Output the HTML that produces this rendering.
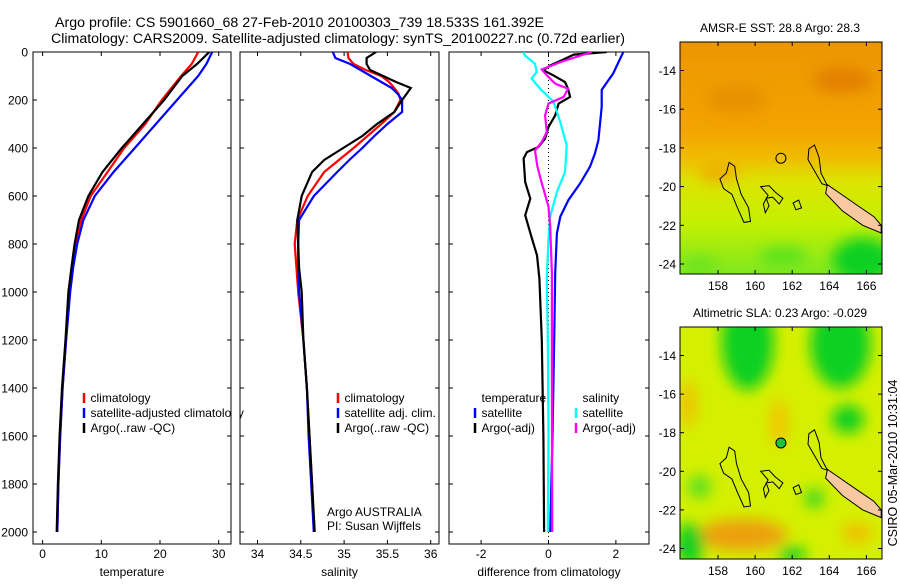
<!DOCTYPE html>
<html><head><meta charset="utf-8"><style>
body{margin:0;background:#fff;}
svg text{font-family:"Liberation Sans",sans-serif;fill:#000;}
</style></head><body>
<svg id="fig" width="900" height="580" viewBox="0 0 900 580" xmlns="http://www.w3.org/2000/svg">
<defs>
<clipPath id="c1"><rect x="33" y="52" width="198" height="492"/></clipPath>
<clipPath id="c2"><rect x="240" y="52" width="199" height="492"/></clipPath>
<clipPath id="c3"><rect x="449" y="52" width="200" height="492"/></clipPath>
<clipPath id="m1"><rect x="680" y="42" width="202" height="232"/></clipPath>
<clipPath id="m2"><rect x="680" y="327" width="202" height="232"/></clipPath>
<filter id="bl" x="-50%" y="-50%" width="200%" height="200%"><feGaussianBlur stdDeviation="7"/></filter>
<linearGradient id="sstg" x1="0" y1="0" x2="0" y2="1">
<stop offset="0" stop-color="#ec9600"/><stop offset="0.38" stop-color="#f2a400"/>
<stop offset="0.5" stop-color="#f0bc00"/><stop offset="0.6" stop-color="#dce400"/>
<stop offset="0.78" stop-color="#c4f000"/><stop offset="1" stop-color="#80e820"/>
</linearGradient>
</defs>
<text x="55" y="27" font-size="13.5" textLength="489" lengthAdjust="spacingAndGlyphs">Argo profile: CS 5901660_68 27-Feb-2010 20100303_739 18.533S 161.392E</text>
<text x="51" y="43" font-size="13.5" textLength="574" lengthAdjust="spacingAndGlyphs">Climatology: CARS2009. Satellite-adjusted climatology: synTS_20100227.nc (0.72d earlier)</text>
<g id="g1"></g>
<g id="g2"></g>
<g id="g3"></g>
<g id="maps"></g>
<text font-size="12.5" transform="translate(897,463) rotate(-90)" text-anchor="middle">CSIRO 05-Mar-2010 10:31:04</text>
</svg>
<script>
// ---- data ----
const tDepth = [0,50,100,200,300,400,500,600,700,800,900,1000,1200,1400,1600,1800,2000];
const tArgo  = [28.4,26.3,23.8,20.7,17.1,13.5,10.2,7.8,6.2,5.45,4.9,4.4,3.9,3.3,2.9,2.6,2.4];
const tClim  = [26.5,25.4,23.6,20.3,17.5,13.9,11.05,8.2,6.6,5.7,5.1,4.6,4.0,3.4,3.0,2.7,2.5];
const tSat   = [28.9,27.9,26.5,22.9,19.3,15.7,12.1,8.9,6.95,5.9,5.2,4.7,4.0,3.4,3.0,2.7,2.5];

const sDepth = [0,25,50,75,100,125,150,175,200,250,300,350,400,450,500,600,700,800,900,1000,1200,1400,1600,1800,2000];
const sArgo  = [35.37,35.26,35.26,35.30,35.45,35.60,35.77,35.72,35.67,35.58,35.38,35.21,34.99,34.77,34.63,34.51,34.46,34.47,34.48,34.51,34.53,34.57,34.60,34.63,34.66];
const sClim  = [35.04,35.05,35.11,35.25,35.43,35.52,35.58,35.63,35.65,35.58,35.43,35.27,35.11,34.94,34.77,34.58,34.46,34.43,34.45,34.47,34.53,34.57,34.60,34.63,34.65];
const sSat   = [34.87,34.90,35.07,35.19,35.31,35.43,35.55,35.62,35.67,35.67,35.50,35.35,35.21,35.06,34.92,34.65,34.48,34.47,34.47,34.48,34.53,34.57,34.59,34.62,34.65];

const dDepthB = [0,89,158,228,367,422,478,547,617,686,756,922,1200,1600,2000];
const dTSat   = [2.22,1.92,1.58,1.58,1.48,1.38,1.23,0.94,0.59,0.35,0.25,0.2,0.17,0.12,0.05];
const dDepthK = [0,11,28,56,76,97,125,153,187,215,264,312,361,396,417,444,542,611,680,778,847,944,1200,1600,2000];
const dTArgo  = [1.73,0.75,0.49,0.05,-0.15,0.14,0.49,0.58,0.64,0.3,0.2,0,-0.1,-0.3,-0.64,-0.74,-0.69,-0.54,-0.69,-0.49,-0.34,-0.27,-0.2,-0.15,-0.13];
const dDepthM = [0,42,73,97,132,153,187,215,264,333,375,410,478,547,644,728,922,1400,2000];
const dSArgo  = [1.28,0.35,-0.2,-0.05,0.2,0.58,0.45,0,-0.1,-0.05,-0.2,-0.4,-0.33,-0.2,0,0.05,0.1,0.1,0.11];
const dDepthC = [0,14,49,83,111,153,208,292,389,500,583,686,778,944,1200,1600,2000];
const dSSat   = [-0.75,-0.7,-0.4,-0.35,-0.5,-0.25,0.15,0.35,0.54,0.49,0.25,0.05,0,-0.05,-0.02,0,-0.02];

const depthTicks = [0,200,400,600,800,1000,1200,1400,1600,1800,2000];
const tTicks = [0,10,20,30];
const sTicks = [34,34.5,35,35.5,36];
const sTickLabels = ["34","34.5","35","35.5","36"];
const dTicks = [-2,0,2];
const latTicks = [14,16,18,20,22,24];
const lonTicks = [158,160,162,164,166];

// ---- scales ----
const NS='http://www.w3.org/2000/svg';
const yD = d => 52 + d*0.24;
const xT = v => 42.6 + v*5.87;
const xS = v => 257.5 + (v-34)*86.6;
const xDf = v => 548.5 + v*33.7;
function mk(tag, attrs, parent){const e=document.createElementNS(NS,tag);for(const k in attrs)e.setAttribute(k,attrs[k]);parent.appendChild(e);return e;}
function txt(s, x, y, anchor, parent, size){const t=mk('text',{x:x,y:y,'font-size':size||12,'text-anchor':anchor||'start'},parent);t.textContent=s;return t;}

function panel(g, x0, x1, xs, ticks, labels, xlabel, showY){
  const box=mk('rect',{x:x0,y:52,width:x1-x0,height:492,fill:'none',stroke:'#000','stroke-width':1},g);
  
  
  depthTicks.forEach((d,i)=>{
    mk('line',{x1:x0,x2:x0+4,y1:yD(d),y2:yD(d),stroke:'#000'},g);
    mk('line',{x1:x1-4,x2:x1,y1:yD(d),y2:yD(d),stroke:'#000'},g);
    if(showY){const t=txt(String(d),28,yD(d)+4.5,'end',g);
      
      }
  });
  ticks.forEach((v,i)=>{
    mk('line',{x1:xs(v),x2:xs(v),y1:544,y2:540,stroke:'#000'},g);
    mk('line',{x1:xs(v),x2:xs(v),y1:52,y2:56,stroke:'#000'},g);
    const t=txt(labels[i],xs(v),558,'middle',g);
    
    
  });
  const xl=txt(xlabel,(x0+x1)/2,576,'middle',g);
  
  
}
function series(g, clip, depths, vals, xs, color, name){
  const pts=depths.map((d,i)=>xs(vals[i]).toFixed(1)+','+yD(d).toFixed(1)).join(' ');
  const p=mk('polyline',{points:pts,fill:'none',stroke:color,'stroke-width':2.2,'clip-path':'url(#'+clip+')'},g);
  
  
}
function legend(g, x, y, color, label){
  if(color){const m=mk('line',{x1:x,x2:x,y1:y-9,y2:y+1,stroke:color,'stroke-width':2.5},g);
    
    }
  const t=txt(label,x+6.5,y,'start',g);
  
  
}

// panel 1
const g1=document.getElementById('g1');
panel(g1,33,231,xT,tTicks,tTicks.map(String),'temperature',true);
series(g1,'c1',tDepth,tClim,xT,'#f00','temperature-climatology-line');
series(g1,'c1',tDepth,tSat,xT,'#00f','temperature-satellite-line');
series(g1,'c1',tDepth,tArgo,xT,'#000','temperature-argo-line');
legend(g1,84,402,'#f00','climatology');
legend(g1,84,417,'#00f','satellite-adjusted climatology');
legend(g1,84,432,'#000','Argo(..raw -QC)');
mk('rect',{x:231.5,y:405,width:8,height:16,fill:'#fff'},g1);
mk('line',{x1:231,x2:231,y1:400,y2:425,stroke:'#000'},g1);

// panel 2
const g2=document.getElementById('g2');
panel(g2,240,439,xS,sTicks,sTickLabels,'salinity',false);
series(g2,'c2',sDepth,sClim,xS,'#f00','salinity-climatology-line');
series(g2,'c2',sDepth,sSat,xS,'#00f','salinity-satellite-line');
series(g2,'c2',sDepth,sArgo,xS,'#000','salinity-argo-line');
legend(g2,338,402,'#f00','climatology');
legend(g2,338,417,'#00f','satellite adj. clim.');
legend(g2,338,432,'#000','Argo(..raw -QC)');
let t=txt('Argo AUSTRALIA',327,516,'start',g2);


t=txt('PI: Susan Wijffels',327,530,'start',g2);



// panel 3
const g3=document.getElementById('g3');
panel(g3,449,649,xDf,dTicks,dTicks.map(String),'difference from climatology',false);
const zl=mk('line',{x1:xDf(0),x2:xDf(0),y1:52,y2:544,stroke:'#000','stroke-width':1,'stroke-dasharray':'1,3'},g3);


series(g3,'c3',dDepthB,dTSat,xDf,'#00f','temperature-satellite-diff-line');
series(g3,'c3',dDepthK,dTArgo,xDf,'#000','temperature-argo-diff-line');
series(g3,'c3',dDepthC,dSSat,xDf,'#0ff','salinity-satellite-diff-line');
series(g3,'c3',dDepthM,dSArgo,xDf,'#f0f','salinity-argo-diff-line');
legend(g3,475,402,null,'temperature');
legend(g3,475,417,'#00f','satellite');
legend(g3,475,432,'#000','Argo(-adj)');
legend(g3,576,402,null,'salinity');
legend(g3,576,417,'#0ff','satellite');
legend(g3,576,432,'#f0f','Argo(-adj)');

// ---- maps ----
const mg=document.getElementById('maps');
const lonX = l => 718 + (l-158)*18.55;
const islandA=[[158.6,18.75],[158.9,18.95],[159.0,19.6],[159.25,20.4],[159.65,21.1],[159.75,21.8],[159.4,21.85],[159.05,21.1],[158.75,20.4],[158.3,20.1],[158.1,19.6],[158.45,19.3]];
const islandB=[[160.3,20.0],[160.75,19.95],[161.1,20.3],[161.5,20.6],[161.3,20.9],[160.95,20.55],[160.6,20.6],[160.75,21.0],[160.55,21.35],[160.45,20.9],[160.7,20.45]];
const islandC=[[162.05,20.85],[162.35,20.7],[162.5,21.1],[162.2,21.2]];
const islandD=[[162.9,18.05],[163.2,17.85],[163.45,18.5],[163.55,19.3],[163.9,19.95],[163.6,19.85],[163.15,19.1],[162.85,18.6]];
const caledonia=[[163.9,19.9],[164.5,20.3],[165.4,20.9],[166.4,21.55],[166.8,22.0],[166.8,22.4],[165.8,22.0],[164.7,21.25],[163.8,20.35]];
function drawMap(y0, y1, latY, title, clip, sst){
  const g=mk('g',{},mg);
  
  
  const cg=mk('g',{'clip-path':'url(#'+clip+')'},g);
  if(sst){
    mk('rect',{x:680,y:y0,width:202,height:y1-y0,fill:'url(#sstg)'},cg);
    const bg=mk('g',{filter:'url(#bl)'},cg);
    mk('ellipse',{cx:lonX(159),cy:latY(15.5),rx:30,ry:14,fill:'#e48a00',opacity:0.7},bg);
    mk('ellipse',{cx:lonX(164.7),cy:latY(14.5),rx:30,ry:12,fill:'#e07800',opacity:0.8},bg);
    mk('ellipse',{cx:lonX(158),cy:latY(19.3),rx:20,ry:10,fill:'#f0a800',opacity:0.8},bg);
    mk('ellipse',{cx:lonX(165.8),cy:latY(23.8),rx:30,ry:22,fill:'#10d020'},bg);
    mk('ellipse',{cx:lonX(161.5),cy:latY(23.6),rx:25,ry:10,fill:'#50e020',opacity:0.8},bg);
    mk('ellipse',{cx:lonX(157),cy:latY(24),rx:18,ry:8,fill:'#60e020',opacity:0.8},bg);
  } else {
    mk('rect',{x:680,y:y0,width:202,height:y1-y0,fill:'#d4f000'},cg);
    const bg=mk('g',{filter:'url(#bl)'},cg);
    mk('ellipse',{cx:lonX(159.6),cy:latY(13.3),rx:26,ry:48,fill:'#10d020'},bg);
    mk('ellipse',{cx:lonX(164.6),cy:latY(13.4),rx:30,ry:44,fill:'#10d020'},bg);
    mk('ellipse',{cx:lonX(165),cy:latY(17.3),rx:16,ry:14,fill:'#10d020'},bg);
    mk('ellipse',{cx:lonX(157),cy:latY(20.8),rx:12,ry:12,fill:'#60e020'},bg);
    mk('ellipse',{cx:lonX(163.2),cy:latY(21.4),rx:10,ry:10,fill:'#40d820'},bg);
    mk('ellipse',{cx:lonX(159.3),cy:latY(23.3),rx:45,ry:16,fill:'#eca010'},bg);
    mk('ellipse',{cx:lonX(156.5),cy:latY(23.8),rx:14,ry:22,fill:'#10d020'},bg);
    mk('ellipse',{cx:lonX(162),cy:latY(24.3),rx:14,ry:8,fill:'#10d020'},bg);
    mk('ellipse',{cx:lonX(161.3),cy:latY(17.5),rx:10,ry:24,fill:'#f0c800'},bg);
    mk('ellipse',{cx:lonX(156.4),cy:latY(16.5),rx:8,ry:24,fill:'#f0c000'},bg);
    mk('ellipse',{cx:lonX(165.5),cy:latY(23.2),rx:16,ry:10,fill:'#f0c000'},bg);
  }
  const toPts=a=>a.map(p=>lonX(p[0]).toFixed(1)+','+latY(p[1]).toFixed(1)).join(' ');
  [islandA,islandB,islandC,islandD].forEach(a=>{
    const p=mk('polygon',{points:toPts(a),fill:'none',stroke:'#000','stroke-width':1},cg);
    
    
  });
  const nc=mk('polygon',{points:toPts(caledonia),fill:'#f8c8a0',stroke:'#000','stroke-width':1},cg);
  
  
  const c=mk('circle',{cx:lonX(161.392),cy:latY(18.533),r:5,fill:sst?'none':'#20c040',stroke:'#000','stroke-width':1},cg);
  
  
  mk('rect',{x:680,y:y0,width:202,height:y1-y0,fill:'none',stroke:'#000'},g);
  latTicks.forEach(l=>{
    mk('line',{x1:680,x2:684,y1:latY(l),y2:latY(l),stroke:'#000'},g);
    mk('line',{x1:878,x2:882,y1:latY(l),y2:latY(l),stroke:'#000'},g);
    const t=txt('-'+l,676,latY(l)+4.5,'end',g);
    
    
  });
  lonTicks.forEach(l=>{
    mk('line',{x1:lonX(l),x2:lonX(l),y1:y1,y2:y1-4,stroke:'#000'},g);
    mk('line',{x1:lonX(l),x2:lonX(l),y1:y0,y2:y0+4,stroke:'#000'},g);
    const t=txt(String(l),lonX(l),y1+16,'middle',g);
    
    
  });
  const tt=txt(title,780,y0-10,'middle',g);
  
  
}
drawMap(42,274,l=>70.5+(l-14)*19.35,'AMSR-E SST: 28.8 Argo: 28.3','m1',true);
drawMap(327,559,l=>355.5+(l-14)*19.3,'Altimetric SLA: 0.23 Argo: -0.029','m2',false);
</script>
</body></html>
